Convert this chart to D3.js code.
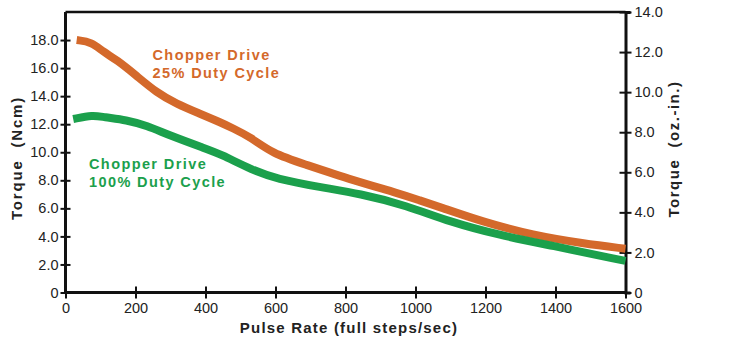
<!DOCTYPE html>
<html>
<head>
<meta charset="utf-8">
<script src="https://cdn.jsdelivr.net/npm/d3@7"></script>
<style>
  body { margin: 0; background: #fff; }
  svg { display: block; font-family: "Liberation Sans", Arial, sans-serif; }
</style>
</head>
<body>
<div id="chart"></div>
<script>
// Chopper Drive 25% duty cycle (Ncm vs pulse rate)
var rate25 = [32, 75, 108, 146, 203, 260, 317, 384, 441, 479, 527, 593, 679, 822, 955, 1012, 1069, 1193, 1336, 1479, 1600]
var torque25 = [18.0, 17.86, 17.15, 16.6, 15.45, 14.26, 13.45, 12.75, 12.15, 11.7, 11.1, 9.89, 9.18, 7.99, 7.05, 6.57, 6.1, 5.03, 4.08, 3.49, 3.12]

// Chopper Drive 100% duty cycle
var rate100 = [22, 79, 108, 175, 232, 298, 400, 441, 536, 603, 727, 841, 974, 1098, 1241, 1384, 1600]
var torque100 = [12.37, 12.66, 12.5, 12.3, 11.9, 11.19, 10.26, 9.89, 8.7, 8.11, 7.51, 7.05, 6.21, 5.03, 4.08, 3.37, 2.25]

var xTicks = [0, 200, 400, 600, 800, 1000, 1200, 1400, 1600]
var ncmTicks = [0, 2, 4, 6, 8, 10, 12, 14, 16, 18]
var ozTicks = [0, 2, 4, 6, 8, 10, 12, 14]

var orange = "#d4692b", green = "#1ba04c"

var svg = d3.select("#chart").append("svg")
  .attr("width", 729)
  .attr("height", 353)

var x = d3.scaleLinear().domain([0, 1600]).range([65.5, 625.5])
var yL = d3.scaleLinear().domain([0, 20]).range([292.5, 12])
var yR = d3.scaleLinear().domain([0, 14]).range([292.5, 12])

var fmt = function(d) { return d === 0 ? "0" : d3.format(".1f")(d) }

// frame top line
svg.append("line")
  .attr("x1", x(0)).attr("x2", x(1600))
  .attr("y1", yR(14)).attr("y2", yR(14))
  .attr("stroke", "#111").attr("stroke-width", 2.5)

function styleAxis(g) {
  g.select(".domain").attr("stroke", "#111").attr("stroke-width", 3)
  g.selectAll(".tick line").attr("stroke", "#111").attr("stroke-width", 2)
  g.selectAll(".tick text").attr("font-size", "14.5px").attr("fill", "#222")
    .attr("font-family", "Liberation Sans, Arial, sans-serif")
}

// left axis
var gl = svg.append("g")
  .attr("transform", "translate(" + x(0) + ",0)")
  .call(d3.axisLeft(yL).tickValues(ncmTicks).tickFormat(fmt).tickSizeOuter(0).tickSize(5))
styleAxis(gl)
gl.select(".domain").attr("d", "M0," + yL(0) + "V" + yR(14))
gl.selectAll(".tick line").attr("x1", -5).attr("x2", 5)
gl.selectAll(".tick text").attr("x", -7)

// right axis
var gr = svg.append("g")
  .attr("transform", "translate(" + x(1600) + ",0)")
  .call(d3.axisRight(yR).tickValues(ozTicks).tickFormat(fmt).tickSizeOuter(0).tickSize(5))
styleAxis(gr)
gr.selectAll(".tick line").attr("x1", -6).attr("x2", 6)
gr.selectAll(".tick text").attr("x", 9)

// bottom axis
var gb = svg.append("g")
  .attr("transform", "translate(0," + yL(0) + ")")
  .call(d3.axisBottom(x).tickValues(xTicks).tickFormat(d3.format("d")).tickSizeOuter(0).tickSize(5))
styleAxis(gb)
gb.select(".domain").attr("d", "M" + (x(0) - 1.5) + ",0H" + (x(1600) + 1.5))
gb.selectAll(".tick line").attr("y1", -6).attr("y2", 6)
gb.selectAll(".tick text").attr("y", 10)

// curves
var line = d3.line()
  .x(function(d) { return x(d[0]) })
  .y(function(d) { return yL(d[1]) })
  .curve(d3.curveBasis)

svg.append("path")
  .datum(d3.zip(rate25, torque25))
  .attr("fill", "none").attr("stroke", orange).attr("stroke-width", 8)
  .attr("d", line)

svg.append("path")
  .datum(d3.zip(rate100, torque100))
  .attr("fill", "none").attr("stroke", green).attr("stroke-width", 8)
  .attr("d", line)

// annotations
function label(txt, px, py, color, ls) {
  svg.append("text")
    .attr("x", px).attr("y", py)
    .attr("fill", color)
    .attr("font-size", "14.5px").attr("font-weight", "bold")
    .attr("letter-spacing", ls + "px")
    .text(txt)
}
label("Chopper Drive", 152.5, 59.5, orange, 1.4)
label("25% Duty Cycle", 152.5, 77.5, orange, 1.4)
label("Chopper Drive", 89, 168.5, green, 1.4)
label("100% Duty Cycle", 89, 187, green, 1.4)

// axis titles
svg.append("text")
  .attr("transform", "translate(22,158) rotate(-90)")
  .attr("text-anchor", "middle")
  .attr("font-size", "15px").attr("font-weight", "bold").attr("fill", "#222")
  .attr("letter-spacing", "1.8px")
  .attr("xml:space", "preserve")
  .text("Torque  (Ncm)")

svg.append("text")
  .attr("transform", "translate(679,149) rotate(-90)")
  .attr("text-anchor", "middle")
  .attr("font-size", "15px").attr("font-weight", "bold").attr("fill", "#222")
  .attr("letter-spacing", "1.5px")
  .attr("xml:space", "preserve")
  .text("Torque  (oz.-in.)")

svg.append("text")
  .attr("x", 349).attr("y", 333)
  .attr("text-anchor", "middle")
  .attr("font-size", "15px").attr("font-weight", "bold").attr("fill", "#222")
  .attr("letter-spacing", "1.2px")
  .text("Pulse Rate (full steps/sec)")
</script>
</body>
</html>
